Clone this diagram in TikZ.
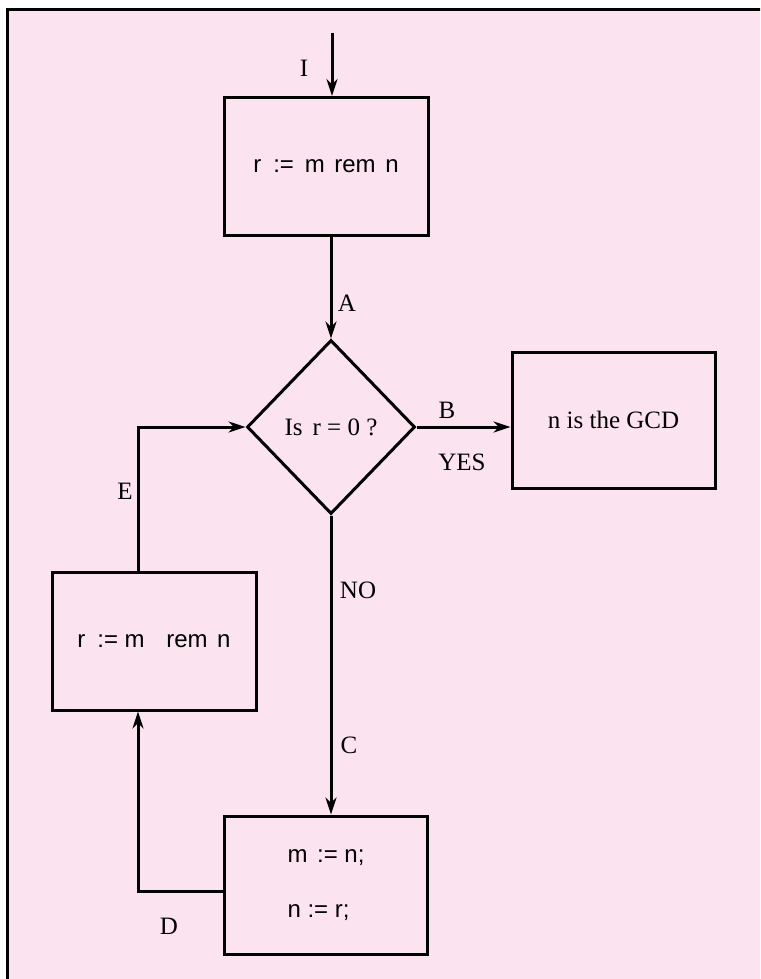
\documentclass[tikz,border=0pt]{standalone}
\usepackage{fontspec}
\setmainfont{Liberation Serif}
\setsansfont{Liberation Sans}
\usepackage{tikz}
\usetikzlibrary{shapes.geometric, arrows.meta, positioning, calc}
\definecolor{pageBg}{HTML}{FBE3F0}

\begin{document}
\begin{tikzpicture}[
    x=1pt, y=-1pt,
    flowline/.style={line width=3pt, black},
    arrow/.style={flowline, -{Stealth[length=17pt, width=11pt]}},
    procbox/.style={draw, line width=3pt, rectangle, inner sep=0pt,
                    minimum width=204pt, minimum height=138pt,
                    font=\sffamily\fontsize{24}{28}\selectfont},
    testbox/.style={draw, line width=3pt, diamond, inner sep=0pt,
                    minimum width=168pt, minimum height=174pt,
                    font=\fontsize{25}{29}\selectfont},
    lbl/.style={font=\fontsize{25}{29}\selectfont, inner sep=0pt},
]
\useasboundingbox (0,0) rectangle (760,979);
\clip (0,0) rectangle (760,979);

% ── Page ──
\fill[pageBg] (7,10) rectangle (780,1000);
\draw[line width=3pt] (7,1000) -- (7,10) -- (780,10);

% ── Nodes ──
\coordinate (in) at (332,33);
\node[procbox] (rem) at (326,166.5)
    {r\hspace{0.5em}:=\hspace{0.45em}m\hspace{0.4em}rem\hspace{0.4em}n};
\node[testbox] (test) at (331,427)
    {Is\hspace{0.4em}r = 0 ?};
\node[procbox, minimum width=203pt, minimum height=136pt,
      font=\fontsize{25}{29}\selectfont] (gcd) at (613.5,420)
    {n is the GCD};
\node[procbox] (redo) at (154,641)
    {r\hspace{0.5em}:= m\hspace{0.9em}rem\hspace{0.4em}n};
\node[procbox, minimum width=203pt, align=left] (upd) at (326,885)
    {m\hspace{0.4em}:= n;\\[27pt]n := r;};

\coordinate (dturn) at (138,891);
\coordinate (eturn) at (138,427);

% ── Arrows ──
\draw[arrow] (in) -- (in |- rem.north);
\draw[arrow] (rem.south -| test.north) -- (test.north);
\draw[arrow] (test.east) -- (test.east -| gcd.west);
\draw[arrow] (test.south) -- (test.south |- upd.north);
\draw[arrow] (upd.west |- dturn) -- (dturn) -- (dturn |- redo.south);
\draw[arrow] (eturn |- redo.north) -- (eturn) -- (test.west);

% ── Labels ──
\node[lbl] (lI) at (304,68) {I};
\node[lbl] (lA) at (347,303) {A};
\node[lbl] (lB) at (447,410) {B};
\node[lbl] (lyes) at (462,462) {YES};
\node[lbl] (lE) at (125,491) {E};
\node[lbl] (lno) at (358,590) {NO};
\node[lbl] (lC) at (349,745) {C};
\node[lbl] (lD) at (169,926) {D};
\end{tikzpicture}
\end{document}
